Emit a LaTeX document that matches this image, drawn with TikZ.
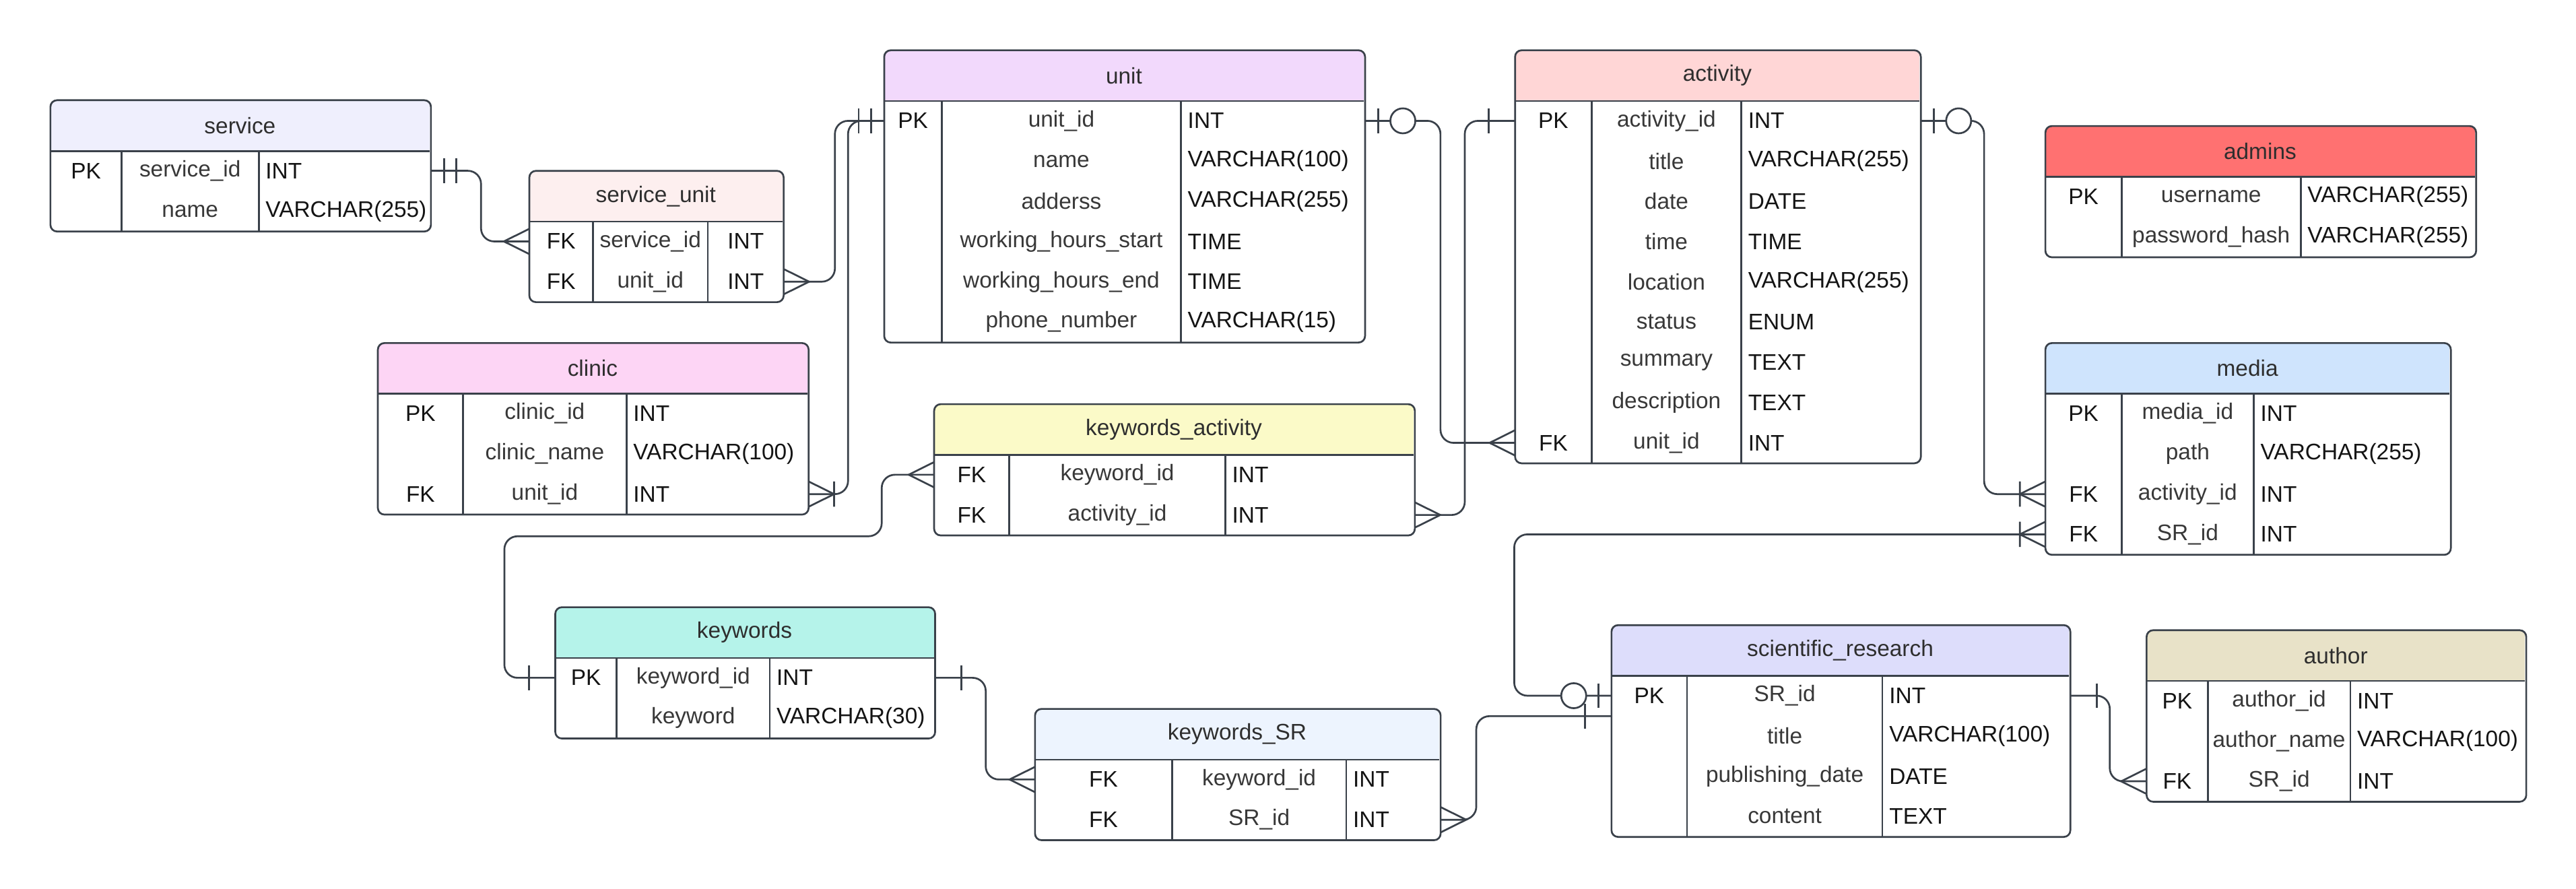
\documentclass[tikz,border=0pt]{standalone}
\usepackage{fontspec}
\setmainfont{Liberation Sans}
\usetikzlibrary{positioning,backgrounds}

\definecolor{linec}{HTML}{3A414A}
\definecolor{titlec}{HTML}{2E2E2E}
\definecolor{keyc}{HTML}{141414}
\definecolor{namec}{HTML}{383838}
\definecolor{servicec}{HTML}{EFEFFD}
\definecolor{serviceunitc}{HTML}{FDEFEF}
\definecolor{unitc}{HTML}{F2D9FC}
\definecolor{activityc}{HTML}{FFD6D6}
\definecolor{adminsc}{HTML}{FF7171}
\definecolor{mediac}{HTML}{CFE4FD}
\definecolor{clinicc}{HTML}{FDD5F5}
\definecolor{kwactivityc}{HTML}{FBFAC8}
\definecolor{keywordsc}{HTML}{B5F3EA}
\definecolor{kwsrc}{HTML}{EDF4FE}
\definecolor{researchc}{HTML}{DDDDFB}
\definecolor{authorc}{HTML}{E8E2C8}

\begin{document}
\begin{tikzpicture}[x=1pt,y=-1pt,
	font=\fontsize{13.7pt}{16pt}\selectfont,
	tableframe/.style={draw=linec,line width=1.1pt},
	conn/.style={draw=linec,line width=1.1pt,rounded corners=8pt},
	ermark/.style={draw=linec,line width=1.1pt},
	tablehead/.style={anchor=north west,inner sep=0pt,minimum height=30.5pt,text=titlec},
	keycell/.style={anchor=north west,inner sep=0pt,minimum height=24.5pt,text=keyc},
	namecell/.style={inner sep=0pt,minimum height=24.5pt,text=namec},
	typecell/.style={inner xsep=4pt,inner ysep=0pt,minimum height=24.5pt,align=left,text=keyc},
	many/.pic={\draw[ermark] (0,-7.7) -- (15.5,0) -- (0,7.7);},
	onemany/.pic={\draw[ermark] (0,-7.7) -- (15.5,0) -- (0,7.7) (15.5,-7.7) -- (15.5,7.7);},
	oneonly/.pic={\draw[ermark] (8,-7.5) -- (8,7.5) (15.5,-7.5) -- (15.5,7.5);},
	onebar/.pic={\draw[ermark] (16,-7.5) -- (16,7.5);},
	zeroone/.pic={\draw[ermark] (8,-7.5) -- (8,7.5); \draw[ermark,fill=white] (23,0) circle (7.6pt);}]
	\useasboundingbox (0,0) rectangle (1568,541.1);

	% service
	\node[tablehead,minimum width=230.4pt] (service) at (30.7,61) {service};
	\foreach \k/\n/\t [count=\i] in {PK/service\_id/INT,/name/VARCHAR(255)} {
		\node[keycell,minimum width=42.8pt] (service-k\i) at (30.7,{91.5+24.5*(\i-1)}) {\k};
		\node[namecell,minimum width=83.2pt,right=0pt of service-k\i] (service-n\i) {\n};
		\node[typecell,text width=96.4pt,right=0pt of service-n\i] (service-t\i) {\t};
	}
	% service_unit
	\node[tablehead,minimum width=153.6pt] (serviceunit) at (322.2,104) {service\_unit};
	\foreach \k/\n/\t [count=\i] in {FK/service\_id/INT,FK/unit\_id/INT} {
		\node[keycell,minimum width=38.4pt] (serviceunit-k\i) at (322.2,{134.5+24.5*(\i-1)}) {\k};
		\node[namecell,minimum width=69.4pt,right=0pt of serviceunit-k\i] (serviceunit-n\i) {\n};
		\node[typecell,align=center,text width=37.8pt,right=0pt of serviceunit-n\i] (serviceunit-t\i) {\t};
	}
	% unit
	\node[tablehead,minimum width=291.5pt] (unit) at (538.2,30.6) {unit};
	\foreach \k/\n/\t [count=\i] in {PK/unit\_id/INT,/name/VARCHAR(100),/adderss/VARCHAR(255),
		/working\_hours\_start/TIME,/working\_hours\_end/TIME,/phone\_number/VARCHAR(15)} {
		\node[keycell,minimum width=34.7pt] (unit-k\i) at (538.2,{61.1+24.5*(\i-1)}) {\k};
		\node[namecell,minimum width=145.1pt,right=0pt of unit-k\i] (unit-n\i) {\n};
		\node[typecell,text width=103.7pt,right=0pt of unit-n\i] (unit-t\i) {\t};
	}
	% activity
	\node[tablehead,minimum width=245.8pt] (activity) at (922.2,30.6) {activity};
	\foreach \k/\n/\t [count=\i] in {PK/activity\_id/INT,/title/VARCHAR(255),/date/DATE,/time/TIME,
		/location/VARCHAR(255),/status/ENUM,/summary/TEXT,/description/TEXT,FK/unit\_id/INT} {
		\node[keycell,minimum width=46.2pt] (activity-k\i) at (922.2,{61.1+24.5*(\i-1)}) {\k};
		\node[namecell,minimum width=90.7pt,right=0pt of activity-k\i] (activity-n\i) {\n};
		\node[typecell,text width=100.9pt,right=0pt of activity-n\i] (activity-t\i) {\t};
	}
	% admins
	\node[tablehead,minimum width=261pt] (admins) at (1245,76.7) {admins};
	\foreach \k/\n/\t [count=\i] in {PK/username/VARCHAR(255),/password\_hash/VARCHAR(255)} {
		\node[keycell,minimum width=46pt] (admins-k\i) at (1245,{107.2+24.5*(\i-1)}) {\k};
		\node[namecell,minimum width=108.6pt,right=0pt of admins-k\i] (admins-n\i) {\n};
		\node[typecell,text width=98.4pt,right=0pt of admins-n\i] (admins-t\i) {\t};
	}
	% media
	\node[tablehead,minimum width=245.6pt] (media) at (1245,208.8) {media};
	\foreach \k/\n/\t [count=\i] in {PK/media\_id/INT,/path/VARCHAR(255),FK/activity\_id/INT,FK/SR\_id/INT} {
		\node[keycell,minimum width=46pt] (media-k\i) at (1245,{239.3+24.5*(\i-1)}) {\k};
		\node[namecell,minimum width=80pt,right=0pt of media-k\i] (media-n\i) {\n};
		\node[typecell,text width=111.6pt,right=0pt of media-n\i] (media-t\i) {\t};
	}
	% clinic
	\node[tablehead,minimum width=261pt] (clinic) at (230,208.8) {clinic};
	\foreach \k/\n/\t [count=\i] in {PK/clinic\_id/INT,/clinic\_name/VARCHAR(100),FK/unit\_id/INT} {
		\node[keycell,minimum width=51.5pt] (clinic-k\i) at (230,{239.3+24.5*(\i-1)}) {\k};
		\node[namecell,minimum width=99pt,right=0pt of clinic-k\i] (clinic-n\i) {\n};
		\node[typecell,text width=102.5pt,right=0pt of clinic-n\i] (clinic-t\i) {\t};
	}
	% keywords_activity
	\node[tablehead,minimum width=291.4pt] (kwactivity) at (568.6,246) {keywords\_activity};
	\foreach \k/\n/\t [count=\i] in {FK/keyword\_id/INT,FK/activity\_id/INT} {
		\node[keycell,minimum width=45.4pt] (kwactivity-k\i) at (568.6,{276.5+24.5*(\i-1)}) {\k};
		\node[namecell,minimum width=131pt,right=0pt of kwactivity-k\i] (kwactivity-n\i) {\n};
		\node[typecell,text width=107pt,right=0pt of kwactivity-n\i] (kwactivity-t\i) {\t};
	}
	% keywords
	\node[tablehead,minimum width=230pt] (keywords) at (338,369.6) {keywords};
	\foreach \k/\n/\t [count=\i] in {PK/keyword\_id/INT,/keyword/VARCHAR(30)} {
		\node[keycell,minimum width=37pt] (keywords-k\i) at (338,{400.1+24.5*(\i-1)}) {\k};
		\node[namecell,minimum width=92.7pt,right=0pt of keywords-k\i] (keywords-n\i) {\n};
		\node[typecell,text width=92.3pt,right=0pt of keywords-n\i] (keywords-t\i) {\t};
	}
	% keywords_SR
	\node[tablehead,minimum width=245.7pt] (kwsr) at (630,431.5) {keywords\_SR};
	\foreach \k/\n/\t [count=\i] in {FK/keyword\_id/INT,FK/SR\_id/INT} {
		\node[keycell,minimum width=83pt] (kwsr-k\i) at (630,{462+24.5*(\i-1)}) {\k};
		\node[namecell,minimum width=105.6pt,right=0pt of kwsr-k\i] (kwsr-n\i) {\n};
		\node[typecell,text width=49.1pt,right=0pt of kwsr-n\i] (kwsr-t\i) {\t};
	}
	% scientific_research
	\node[tablehead,minimum width=278.1pt] (research) at (980.9,380.5) {scientific\_research};
	\foreach \k/\n/\t [count=\i] in {PK/SR\_id/INT,/title/VARCHAR(100),/publishing\_date/DATE,/content/TEXT} {
		\node[keycell,minimum width=45.6pt] (research-k\i) at (980.9,{411+24.5*(\i-1)}) {\k};
		\node[namecell,minimum width=118.5pt,right=0pt of research-k\i] (research-n\i) {\n};
		\node[typecell,text width=106pt,right=0pt of research-n\i] (research-t\i) {\t};
	}
	% author
	\node[tablehead,minimum width=229.9pt] (author) at (1306.6,383.6) {author};
	\foreach \k/\n/\t [count=\i] in {PK/author\_id/INT,/author\_name/VARCHAR(100),FK/SR\_id/INT} {
		\node[keycell,minimum width=36.9pt] (author-k\i) at (1306.6,{414.1+24.5*(\i-1)}) {\k};
		\node[namecell,minimum width=86.3pt,right=0pt of author-k\i] (author-n\i) {\n};
		\node[typecell,text width=98.7pt,right=0pt of author-n\i] (author-t\i) {\t};
	}

	% header colours, under the text
	\begin{scope}[on background layer]
	\fill[white] (0,0) rectangle (1568,541.1);
	\foreach \tb/\last/\c in {service/2/servicec,serviceunit/2/serviceunitc,unit/6/unitc,
		activity/9/activityc,admins/2/adminsc,media/4/mediac,clinic/3/clinicc,
		kwactivity/2/kwactivityc,keywords/2/keywordsc,kwsr/2/kwsrc,research/4/researchc,author/3/authorc} {
		\begin{scope}
		\clip[rounded corners=4pt] (\tb.north west) rectangle (\tb-t\last.south east);
		\fill[fill=\c] (\tb.north west) rectangle (\tb.south east);
		\end{scope}
	}
	\end{scope}

	% frames
	\foreach \tb/\last in {service/2,serviceunit/2,unit/6,activity/9,admins/2,media/4,
		clinic/3,kwactivity/2,keywords/2,kwsr/2,research/4,author/3} {
		\draw[tableframe,rounded corners=4pt] (\tb.north west) rectangle (\tb-t\last.south east);
		\draw[tableframe] (\tb.south west) -- (\tb.south east)
		(\tb-k1.north east) -- (\tb-k\last.south east)
		(\tb-n1.north east) -- (\tb-n\last.south east);
	}

	% relations
	\coordinate (kwbend) at (536.7,326.4);
	\draw[conn] (service-t1.east) -- ++(30.5,0) |- (serviceunit-k1.west);
	\draw[conn] (serviceunit-t2.east) -- ++(31.2,0) |- (unit-k1.west);
	\draw[conn] (clinic-t3.east) -- ++(24,0) |- (unit-k1.west);
	\draw[conn] (unit-t1.east) -- ++(45.9,0) |- (activity-k9.west);
	\draw[conn] (activity-k1.west) -- ++(-30.6,0) |- (kwactivity-t2.east);
	\draw[conn] (activity-t1.east) -- ++(38.5,0) |- (media-k3.west);
	\draw[conn] (research-k1.west) -- ++(-59.2,0) |- (media-k4.west);
	\draw[conn] (research-k1.south west) -- ++(-82.3,0) |- (kwsr-t2.east);
	\draw[conn] (keywords-t1.east) -- ++(30.8,0) |- (kwsr-k1.west);
	\draw[conn] (keywords-k1.west) -- ++(-31,0) |- (kwbend) |- (kwactivity-k1.west);
	\draw[conn] (research-t1.east) -- ++(24,0) |- (author-k3.west);

	\path (service-t1.east) pic {oneonly};
	\path (serviceunit-k1.west) pic[xscale=-1] {many};
	\path (serviceunit-t2.east) pic {many};
	\path (unit-k1.west) pic[xscale=-1] {oneonly};
	\path (clinic-t3.east) pic {onemany};
	\path (unit-t1.east) pic {zeroone};
	\path (activity-k9.west) pic[xscale=-1] {many};
	\path (activity-k1.west) pic[xscale=-1] {onebar};
	\path (kwactivity-t2.east) pic {many};
	\path (activity-t1.east) pic {zeroone};
	\path (media-k3.west) pic[xscale=-1] {onemany};
	\path (research-k1.west) pic[xscale=-1] {zeroone};
	\path (media-k4.west) pic[xscale=-1] {onemany};
	\path (research-k1.south west) pic[xscale=-1] {onebar};
	\path (kwsr-t2.east) pic {many};
	\path (keywords-t1.east) pic {onebar};
	\path (kwsr-k1.west) pic[xscale=-1] {many};
	\path (keywords-k1.west) pic[xscale=-1] {onebar};
	\path (kwactivity-k1.west) pic[xscale=-1] {many};
	\path (research-t1.east) pic {onebar};
	\path (author-k3.west) pic[xscale=-1] {many};
\end{tikzpicture}
\end{document}
